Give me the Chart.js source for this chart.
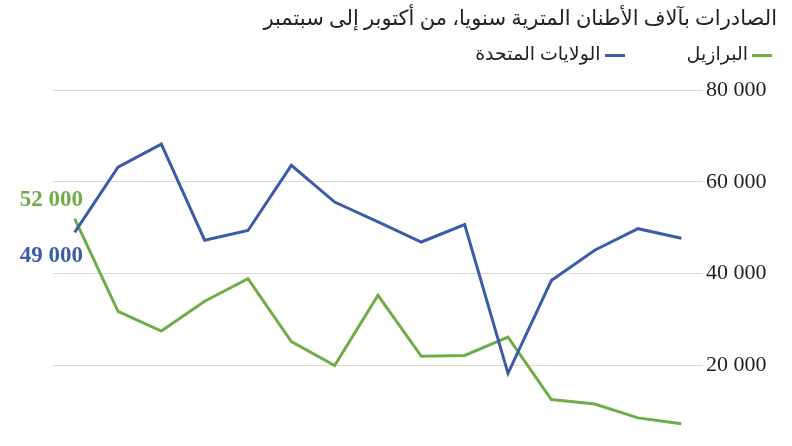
<!DOCTYPE html>
<html lang="ar">
<head>
  <meta charset="UTF-8" />
  <title>الصادرات</title>
  <script src="https://cdn.jsdelivr.net/npm/chart.js"></script>
  <style>
    body { margin: 0; background: #fff; font-family: "Liberation Serif", "DejaVu Sans", serif; }
    .wrap { position: relative; width: 792px; height: 446px; }
    .title { position: absolute; right: 15px; top: 6px; font-size: 21px; color: #222; direction: rtl; white-space: nowrap; }
    .legend { position: absolute; right: 20px; top: 42px; font-size: 19px; color: #222; direction: rtl; white-space: nowrap; }
    .legend span { display: inline-block; }
    .legend .mark { width: 20px; height: 3px; vertical-align: middle; margin-left: 4px; }
    .legend .item { margin-left: 62px; }
    #chart { position: absolute; left: 0; top: 0; }
  </style>
</head>
<body>
  <div class="wrap">
    <canvas id="chart"></canvas>
    <div class="title">الصادرات بآلاف الأطنان المترية سنويا، من أكتوبر إلى سبتمبر</div>
    <div class="legend" id="legend"></div>
  </div>

  <script>
    // 15 seasons (Oct-Sep), labels not shown in the picture
    const seasons = ['1', '2', '3', '4', '5', '6', '7', '8', '9', '10', '11', '12', '13', '14', '15'];
    const brazil = [52000, 31800, 27500, 34000, 38900, 25200, 20000, 35300, 22000, 22200, 26200, 12600, 11600, 8600, 7300];
    const usa = [49000, 63200, 68200, 47300, 49400, 63600, 55600, 51300, 46900, 50700, 18300, 38500, 45100, 49800, 47700];
    const yTicks = [20000, 40000, 60000, 80000];
    const seriesNames = ['البرازيل', 'الولايات المتحدة'];
    const green = '#70ad47';
    const blue = '#3d5ca6';

    function fmt(v) {
      return String(v).replace(/\B(?=(\d{3})+(?!\d))/g, ' ');
    }

    // legend
    const legend = document.getElementById('legend');
    [[seriesNames[0], green], [seriesNames[1], blue]].forEach(([name, col], i) => {
      const item = document.createElement('span');
      if (i === 0) item.className = 'item';
      item.innerHTML = `<span class="mark" style="background:${col}"></span>${name}`;
      legend.appendChild(item);
    });

    // first values written next to the lines
    const firstLabels = {
      id: 'firstLabels',
      afterDatasetsDraw(chart) {
        const ctx = chart.ctx;
        const y = chart.scales.y;
        ctx.save();
        ctx.font = 'bold 23px "Liberation Serif", serif';
        ctx.textAlign = 'right';
        ctx.textBaseline = 'middle';
        ctx.fillStyle = green;
        ctx.fillText(fmt(brazil[0]), 83, y.getPixelForValue(brazil[0]) - 19);
        ctx.fillStyle = blue;
        ctx.fillText(fmt(usa[0]), 83, y.getPixelForValue(usa[0]) + 24);
        ctx.restore();
      }
    };

    new Chart(document.getElementById('chart'), {
      type: 'line',
      data: {
        labels: seasons,
        datasets: [
          { label: seriesNames[1], data: usa, borderColor: blue, borderWidth: 3, pointRadius: 0, tension: 0 },
          { label: seriesNames[0], data: brazil, borderColor: green, borderWidth: 3, pointRadius: 0, tension: 0 }
        ]
      },
      options: {
        responsive: true,
        maintainAspectRatio: false,
        animation: false,
        layout: { padding: { left: 53, top: 90, right: 0, bottom: 0 } },
        plugins: { legend: { display: false }, tooltip: { enabled: false } },
        scales: {
          x: { display: false, offset: true },
          y: {
            position: 'right',
            min: 6000,
            max: 80000,
            afterBuildTicks: axis => { axis.ticks = yTicks.map(v => ({ value: v })); },
            afterFit: axis => { axis.width = 89; },
            border: { display: false },
            grid: { color: '#d9d9d9', lineWidth: 1, drawTicks: false },
            ticks: {
              padding: 3,
              color: '#222',
              font: { family: '"Liberation Serif", serif', size: 22 },
              callback: v => fmt(v)
            }
          }
        }
      },
      plugins: [firstLabels]
    });
  </script>
</body>
</html>
